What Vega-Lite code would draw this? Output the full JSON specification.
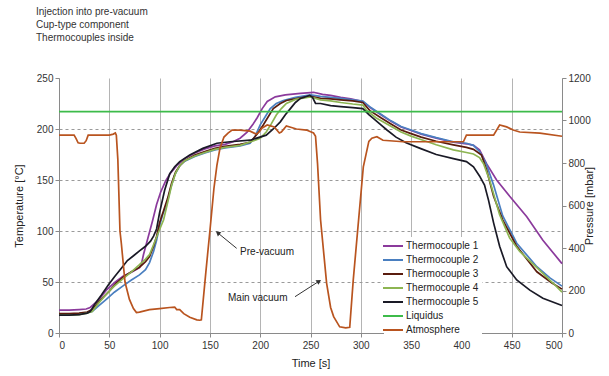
{
"$schema": "https://vega.github.io/schema/vega-lite/v6.json",
"width": 503, "height": 255,
"autosize": {"type": "none"},
"padding": {"left": 59, "top": 78, "right": 47, "bottom": 43},
"background": "white",
"config": {"font": "Liberation Sans", "view": {"stroke": null},
 "axis": {"labelFontSize": 10, "titleFontSize": 11, "titleFontWeight": "normal", "labelColor": "#333", "titleColor": "#222", "domainColor": "#8a8a8a", "tickColor": "#8a8a8a", "tickSize": 4}},
"title": {"text": ["Injection into pre-vacuum", "Cup-type component", "Thermocouples inside"], "anchor": "start", "frame": "group", "fontSize": 10, "fontWeight": "normal", "lineHeight": 13, "color": "#333", "dx": -23, "offset": 30},
"datasets": {
"tc": [
{"s":"Thermocouple 1","t":0,"v":22.5},{"s":"Thermocouple 1","t":10,"v":22.5},{"s":"Thermocouple 1","t":20,"v":23},{"s":"Thermocouple 1","t":27,"v":23.5},{"s":"Thermocouple 1","t":31,"v":25},{"s":"Thermocouple 1","t":39,"v":32},{"s":"Thermocouple 1","t":47,"v":42},{"s":"Thermocouple 1","t":56,"v":50},{"s":"Thermocouple 1","t":64,"v":56},{"s":"Thermocouple 1","t":72,"v":59.5},{"s":"Thermocouple 1","t":80,"v":64},{"s":"Thermocouple 1","t":82,"v":68},{"s":"Thermocouple 1","t":84,"v":77},{"s":"Thermocouple 1","t":87,"v":88},{"s":"Thermocouple 1","t":90,"v":99},{"s":"Thermocouple 1","t":93,"v":110},{"s":"Thermocouple 1","t":97,"v":126},{"s":"Thermocouple 1","t":101,"v":138},{"s":"Thermocouple 1","t":106,"v":149},{"s":"Thermocouple 1","t":111,"v":157},{"s":"Thermocouple 1","t":117,"v":164},{"s":"Thermocouple 1","t":125,"v":171},{"s":"Thermocouple 1","t":135,"v":176.5},{"s":"Thermocouple 1","t":145,"v":180.5},{"s":"Thermocouple 1","t":155,"v":183.5},{"s":"Thermocouple 1","t":165,"v":185},{"s":"Thermocouple 1","t":173,"v":187.5},{"s":"Thermocouple 1","t":180,"v":191},{"s":"Thermocouple 1","t":187,"v":197},{"s":"Thermocouple 1","t":193,"v":205},{"s":"Thermocouple 1","t":197,"v":211},{"s":"Thermocouple 1","t":202,"v":220},{"s":"Thermocouple 1","t":207,"v":227},{"s":"Thermocouple 1","t":215,"v":231.5},{"s":"Thermocouple 1","t":225,"v":233.5},{"s":"Thermocouple 1","t":240,"v":235},{"s":"Thermocouple 1","t":253,"v":236},{"s":"Thermocouple 1","t":262,"v":234},{"s":"Thermocouple 1","t":270,"v":233},{"s":"Thermocouple 1","t":280,"v":231},{"s":"Thermocouple 1","t":290,"v":229.5},{"s":"Thermocouple 1","t":302,"v":227},{"s":"Thermocouple 1","t":310,"v":220.5},{"s":"Thermocouple 1","t":320,"v":214},{"s":"Thermocouple 1","t":330,"v":207.5},{"s":"Thermocouple 1","t":340,"v":202},{"s":"Thermocouple 1","t":350,"v":198.5},{"s":"Thermocouple 1","t":360,"v":195},{"s":"Thermocouple 1","t":375,"v":191},{"s":"Thermocouple 1","t":392,"v":187},{"s":"Thermocouple 1","t":405,"v":185.5},{"s":"Thermocouple 1","t":412,"v":184},{"s":"Thermocouple 1","t":418,"v":179.5},{"s":"Thermocouple 1","t":425,"v":166},{"s":"Thermocouple 1","t":435,"v":150},{"s":"Thermocouple 1","t":448,"v":134},{"s":"Thermocouple 1","t":465,"v":114},{"s":"Thermocouple 1","t":481,"v":91},{"s":"Thermocouple 1","t":500,"v":68},
{"s":"Thermocouple 2","t":0,"v":18.5},{"s":"Thermocouple 2","t":10,"v":18.5},{"s":"Thermocouple 2","t":20,"v":19},{"s":"Thermocouple 2","t":28,"v":20},{"s":"Thermocouple 2","t":33,"v":21},{"s":"Thermocouple 2","t":40,"v":27},{"s":"Thermocouple 2","t":47,"v":33},{"s":"Thermocouple 2","t":55,"v":40},{"s":"Thermocouple 2","t":64,"v":46.5},{"s":"Thermocouple 2","t":72,"v":52},{"s":"Thermocouple 2","t":80,"v":57},{"s":"Thermocouple 2","t":86,"v":62},{"s":"Thermocouple 2","t":90,"v":69},{"s":"Thermocouple 2","t":94,"v":80},{"s":"Thermocouple 2","t":97,"v":91},{"s":"Thermocouple 2","t":100,"v":105},{"s":"Thermocouple 2","t":103,"v":116},{"s":"Thermocouple 2","t":107,"v":126},{"s":"Thermocouple 2","t":111,"v":142},{"s":"Thermocouple 2","t":115,"v":155},{"s":"Thermocouple 2","t":120,"v":164},{"s":"Thermocouple 2","t":125,"v":168.5},{"s":"Thermocouple 2","t":135,"v":173},{"s":"Thermocouple 2","t":145,"v":176.5},{"s":"Thermocouple 2","t":155,"v":179.5},{"s":"Thermocouple 2","t":165,"v":181.5},{"s":"Thermocouple 2","t":180,"v":183.5},{"s":"Thermocouple 2","t":190,"v":186},{"s":"Thermocouple 2","t":195,"v":193},{"s":"Thermocouple 2","t":200,"v":204},{"s":"Thermocouple 2","t":205,"v":212},{"s":"Thermocouple 2","t":210,"v":220},{"s":"Thermocouple 2","t":216,"v":225},{"s":"Thermocouple 2","t":223,"v":228},{"s":"Thermocouple 2","t":235,"v":231},{"s":"Thermocouple 2","t":250,"v":233.5},{"s":"Thermocouple 2","t":260,"v":232},{"s":"Thermocouple 2","t":270,"v":231},{"s":"Thermocouple 2","t":280,"v":230},{"s":"Thermocouple 2","t":292,"v":228.5},{"s":"Thermocouple 2","t":302,"v":227.5},{"s":"Thermocouple 2","t":310,"v":221},{"s":"Thermocouple 2","t":320,"v":214.5},{"s":"Thermocouple 2","t":330,"v":208},{"s":"Thermocouple 2","t":340,"v":202.5},{"s":"Thermocouple 2","t":350,"v":199},{"s":"Thermocouple 2","t":360,"v":195.5},{"s":"Thermocouple 2","t":375,"v":191.5},{"s":"Thermocouple 2","t":392,"v":187.5},{"s":"Thermocouple 2","t":405,"v":186},{"s":"Thermocouple 2","t":412,"v":184},{"s":"Thermocouple 2","t":418,"v":178},{"s":"Thermocouple 2","t":425,"v":165},{"s":"Thermocouple 2","t":432,"v":145},{"s":"Thermocouple 2","t":441,"v":115},{"s":"Thermocouple 2","t":455,"v":88},{"s":"Thermocouple 2","t":475,"v":65},{"s":"Thermocouple 2","t":488,"v":54},{"s":"Thermocouple 2","t":500,"v":46},
{"s":"Thermocouple 3","t":0,"v":19},{"s":"Thermocouple 3","t":10,"v":19},{"s":"Thermocouple 3","t":20,"v":19.5},{"s":"Thermocouple 3","t":28,"v":20.5},{"s":"Thermocouple 3","t":33,"v":23},{"s":"Thermocouple 3","t":40,"v":31},{"s":"Thermocouple 3","t":50,"v":41},{"s":"Thermocouple 3","t":57,"v":49},{"s":"Thermocouple 3","t":64,"v":55},{"s":"Thermocouple 3","t":72,"v":60},{"s":"Thermocouple 3","t":80,"v":64.5},{"s":"Thermocouple 3","t":86,"v":70},{"s":"Thermocouple 3","t":90,"v":75},{"s":"Thermocouple 3","t":94,"v":85},{"s":"Thermocouple 3","t":97,"v":94.6},{"s":"Thermocouple 3","t":100,"v":108},{"s":"Thermocouple 3","t":104,"v":120},{"s":"Thermocouple 3","t":108,"v":132},{"s":"Thermocouple 3","t":112,"v":147},{"s":"Thermocouple 3","t":116,"v":158},{"s":"Thermocouple 3","t":120,"v":164},{"s":"Thermocouple 3","t":125,"v":169},{"s":"Thermocouple 3","t":135,"v":174.5},{"s":"Thermocouple 3","t":145,"v":178},{"s":"Thermocouple 3","t":155,"v":181},{"s":"Thermocouple 3","t":165,"v":183},{"s":"Thermocouple 3","t":180,"v":185},{"s":"Thermocouple 3","t":190,"v":187},{"s":"Thermocouple 3","t":197,"v":195},{"s":"Thermocouple 3","t":203,"v":204},{"s":"Thermocouple 3","t":208,"v":212},{"s":"Thermocouple 3","t":213,"v":220},{"s":"Thermocouple 3","t":220,"v":225},{"s":"Thermocouple 3","t":226,"v":228},{"s":"Thermocouple 3","t":240,"v":230.5},{"s":"Thermocouple 3","t":250,"v":232},{"s":"Thermocouple 3","t":260,"v":230},{"s":"Thermocouple 3","t":270,"v":229.5},{"s":"Thermocouple 3","t":280,"v":228.5},{"s":"Thermocouple 3","t":292,"v":227.5},{"s":"Thermocouple 3","t":302,"v":226},{"s":"Thermocouple 3","t":309,"v":218},{"s":"Thermocouple 3","t":320,"v":211},{"s":"Thermocouple 3","t":330,"v":205},{"s":"Thermocouple 3","t":340,"v":199},{"s":"Thermocouple 3","t":350,"v":195.5},{"s":"Thermocouple 3","t":360,"v":192},{"s":"Thermocouple 3","t":375,"v":188},{"s":"Thermocouple 3","t":392,"v":184.5},{"s":"Thermocouple 3","t":405,"v":182},{"s":"Thermocouple 3","t":412,"v":180},{"s":"Thermocouple 3","t":420,"v":174.5},{"s":"Thermocouple 3","t":425,"v":160},{"s":"Thermocouple 3","t":432,"v":134},{"s":"Thermocouple 3","t":441,"v":111},{"s":"Thermocouple 3","t":455,"v":85},{"s":"Thermocouple 3","t":475,"v":60},{"s":"Thermocouple 3","t":490,"v":49},{"s":"Thermocouple 3","t":500,"v":43},
{"s":"Thermocouple 4","t":0,"v":17.5},{"s":"Thermocouple 4","t":10,"v":17.5},{"s":"Thermocouple 4","t":20,"v":18},{"s":"Thermocouple 4","t":28,"v":19.5},{"s":"Thermocouple 4","t":33,"v":21},{"s":"Thermocouple 4","t":40,"v":30},{"s":"Thermocouple 4","t":47,"v":38},{"s":"Thermocouple 4","t":55,"v":46},{"s":"Thermocouple 4","t":64,"v":53.6},{"s":"Thermocouple 4","t":72,"v":60},{"s":"Thermocouple 4","t":80,"v":67},{"s":"Thermocouple 4","t":86,"v":72.5},{"s":"Thermocouple 4","t":90,"v":77},{"s":"Thermocouple 4","t":95,"v":89},{"s":"Thermocouple 4","t":99,"v":99},{"s":"Thermocouple 4","t":104,"v":111},{"s":"Thermocouple 4","t":108,"v":128},{"s":"Thermocouple 4","t":112,"v":145},{"s":"Thermocouple 4","t":116,"v":157},{"s":"Thermocouple 4","t":120,"v":164},{"s":"Thermocouple 4","t":125,"v":169},{"s":"Thermocouple 4","t":135,"v":173.5},{"s":"Thermocouple 4","t":145,"v":177},{"s":"Thermocouple 4","t":155,"v":180},{"s":"Thermocouple 4","t":165,"v":182},{"s":"Thermocouple 4","t":180,"v":184},{"s":"Thermocouple 4","t":195,"v":189},{"s":"Thermocouple 4","t":200,"v":191},{"s":"Thermocouple 4","t":206,"v":197},{"s":"Thermocouple 4","t":211,"v":205},{"s":"Thermocouple 4","t":216,"v":213.7},{"s":"Thermocouple 4","t":221,"v":220},{"s":"Thermocouple 4","t":226,"v":225},{"s":"Thermocouple 4","t":235,"v":229},{"s":"Thermocouple 4","t":250,"v":231.5},{"s":"Thermocouple 4","t":260,"v":228.5},{"s":"Thermocouple 4","t":270,"v":227.5},{"s":"Thermocouple 4","t":280,"v":226},{"s":"Thermocouple 4","t":292,"v":224.5},{"s":"Thermocouple 4","t":302,"v":223.5},{"s":"Thermocouple 4","t":306,"v":218},{"s":"Thermocouple 4","t":315,"v":211},{"s":"Thermocouple 4","t":326,"v":205},{"s":"Thermocouple 4","t":340,"v":197},{"s":"Thermocouple 4","t":350,"v":193},{"s":"Thermocouple 4","t":359,"v":190},{"s":"Thermocouple 4","t":375,"v":184.5},{"s":"Thermocouple 4","t":392,"v":179.5},{"s":"Thermocouple 4","t":405,"v":177},{"s":"Thermocouple 4","t":412,"v":175.5},{"s":"Thermocouple 4","t":418,"v":172},{"s":"Thermocouple 4","t":422,"v":166},{"s":"Thermocouple 4","t":428,"v":150},{"s":"Thermocouple 4","t":438,"v":116},{"s":"Thermocouple 4","t":448,"v":93},{"s":"Thermocouple 4","t":458,"v":80},{"s":"Thermocouple 4","t":475,"v":64},{"s":"Thermocouple 4","t":491,"v":49},{"s":"Thermocouple 4","t":500,"v":40},
{"s":"Thermocouple 5","t":0,"v":17.5},{"s":"Thermocouple 5","t":10,"v":17.5},{"s":"Thermocouple 5","t":20,"v":18},{"s":"Thermocouple 5","t":28,"v":19.5},{"s":"Thermocouple 5","t":31,"v":21},{"s":"Thermocouple 5","t":36,"v":29},{"s":"Thermocouple 5","t":42,"v":37},{"s":"Thermocouple 5","t":49,"v":47},{"s":"Thermocouple 5","t":55,"v":55},{"s":"Thermocouple 5","t":62,"v":63.5},{"s":"Thermocouple 5","t":68,"v":71},{"s":"Thermocouple 5","t":75,"v":76.5},{"s":"Thermocouple 5","t":80,"v":80.5},{"s":"Thermocouple 5","t":86,"v":85},{"s":"Thermocouple 5","t":91,"v":90},{"s":"Thermocouple 5","t":94,"v":95},{"s":"Thermocouple 5","t":97,"v":102},{"s":"Thermocouple 5","t":100,"v":118},{"s":"Thermocouple 5","t":105,"v":140},{"s":"Thermocouple 5","t":110,"v":156},{"s":"Thermocouple 5","t":115,"v":163},{"s":"Thermocouple 5","t":120,"v":168},{"s":"Thermocouple 5","t":130,"v":174.5},{"s":"Thermocouple 5","t":143,"v":181},{"s":"Thermocouple 5","t":157,"v":186},{"s":"Thermocouple 5","t":170,"v":187.5},{"s":"Thermocouple 5","t":190,"v":189},{"s":"Thermocouple 5","t":206,"v":194},{"s":"Thermocouple 5","t":213,"v":200},{"s":"Thermocouple 5","t":220,"v":207},{"s":"Thermocouple 5","t":225,"v":214},{"s":"Thermocouple 5","t":230,"v":220},{"s":"Thermocouple 5","t":235,"v":226},{"s":"Thermocouple 5","t":240,"v":230},{"s":"Thermocouple 5","t":249,"v":233},{"s":"Thermocouple 5","t":252,"v":231},{"s":"Thermocouple 5","t":255,"v":225},{"s":"Thermocouple 5","t":260,"v":225},{"s":"Thermocouple 5","t":270,"v":223},{"s":"Thermocouple 5","t":280,"v":222},{"s":"Thermocouple 5","t":292,"v":221},{"s":"Thermocouple 5","t":302,"v":220},{"s":"Thermocouple 5","t":308,"v":214},{"s":"Thermocouple 5","t":313,"v":210},{"s":"Thermocouple 5","t":320,"v":204},{"s":"Thermocouple 5","t":326,"v":199},{"s":"Thermocouple 5","t":335,"v":192},{"s":"Thermocouple 5","t":345,"v":186.5},{"s":"Thermocouple 5","t":359,"v":181},{"s":"Thermocouple 5","t":375,"v":175},{"s":"Thermocouple 5","t":392,"v":171},{"s":"Thermocouple 5","t":405,"v":168},{"s":"Thermocouple 5","t":412,"v":163},{"s":"Thermocouple 5","t":418,"v":154},{"s":"Thermocouple 5","t":423,"v":145},{"s":"Thermocouple 5","t":427,"v":130},{"s":"Thermocouple 5","t":432,"v":108},{"s":"Thermocouple 5","t":438,"v":85},{"s":"Thermocouple 5","t":445,"v":65},{"s":"Thermocouple 5","t":455,"v":52},{"s":"Thermocouple 5","t":468,"v":42},{"s":"Thermocouple 5","t":481,"v":34},{"s":"Thermocouple 5","t":500,"v":27},
{"s":"Liquidus","t":0,"v":217},{"s":"Liquidus","t":500,"v":217}
],
"atm": [
{"s":"Atmosphere","t":0,"p":931},{"s":"Atmosphere","t":15,"p":931},{"s":"Atmosphere","t":17,"p":915},{"s":"Atmosphere","t":19,"p":895},{"s":"Atmosphere","t":21,"p":893},{"s":"Atmosphere","t":25,"p":893},{"s":"Atmosphere","t":27,"p":905},{"s":"Atmosphere","t":29,"p":931},{"s":"Atmosphere","t":50,"p":931},{"s":"Atmosphere","t":54,"p":936},{"s":"Atmosphere","t":56,"p":941},{"s":"Atmosphere","t":57,"p":931},{"s":"Atmosphere","t":58.5,"p":816},{"s":"Atmosphere","t":60.6,"p":480},{"s":"Atmosphere","t":62,"p":420},{"s":"Atmosphere","t":65.6,"p":240},{"s":"Atmosphere","t":70,"p":158},{"s":"Atmosphere","t":74,"p":115},{"s":"Atmosphere","t":77,"p":96},{"s":"Atmosphere","t":80,"p":98},{"s":"Atmosphere","t":90,"p":110},{"s":"Atmosphere","t":100,"p":115},{"s":"Atmosphere","t":110,"p":120},{"s":"Atmosphere","t":115,"p":122},{"s":"Atmosphere","t":117,"p":110},{"s":"Atmosphere","t":120,"p":110},{"s":"Atmosphere","t":124,"p":91},{"s":"Atmosphere","t":130,"p":74},{"s":"Atmosphere","t":137,"p":62},{"s":"Atmosphere","t":140,"p":60},{"s":"Atmosphere","t":141.5,"p":62},{"s":"Atmosphere","t":146,"p":288},{"s":"Atmosphere","t":150,"p":480},{"s":"Atmosphere","t":154,"p":680},{"s":"Atmosphere","t":157,"p":790},{"s":"Atmosphere","t":160,"p":869},{"s":"Atmosphere","t":164,"p":922},{"s":"Atmosphere","t":168,"p":941},{"s":"Atmosphere","t":172,"p":955},{"s":"Atmosphere","t":180,"p":955},{"s":"Atmosphere","t":190,"p":950},{"s":"Atmosphere","t":196,"p":936},{"s":"Atmosphere","t":199,"p":946},{"s":"Atmosphere","t":202,"p":965},{"s":"Atmosphere","t":207,"p":979},{"s":"Atmosphere","t":214,"p":970},{"s":"Atmosphere","t":219,"p":941},{"s":"Atmosphere","t":221,"p":946},{"s":"Atmosphere","t":226,"p":974},{"s":"Atmosphere","t":236,"p":960},{"s":"Atmosphere","t":246,"p":955},{"s":"Atmosphere","t":253,"p":941},{"s":"Atmosphere","t":255,"p":926},{"s":"Atmosphere","t":257,"p":797},{"s":"Atmosphere","t":260,"p":533},{"s":"Atmosphere","t":266,"p":235},{"s":"Atmosphere","t":270,"p":120},{"s":"Atmosphere","t":273,"p":77},{"s":"Atmosphere","t":279,"p":29},{"s":"Atmosphere","t":285,"p":24},{"s":"Atmosphere","t":289,"p":27},{"s":"Atmosphere","t":292.5,"p":250},{"s":"Atmosphere","t":302.5,"p":782},{"s":"Atmosphere","t":308,"p":902},{"s":"Atmosphere","t":311,"p":917},{"s":"Atmosphere","t":316,"p":924},{"s":"Atmosphere","t":322,"p":907},{"s":"Atmosphere","t":342,"p":900},{"s":"Atmosphere","t":392,"p":900},{"s":"Atmosphere","t":402,"p":900},{"s":"Atmosphere","t":405,"p":931},{"s":"Atmosphere","t":432,"p":931},{"s":"Atmosphere","t":438,"p":979},{"s":"Atmosphere","t":445,"p":970},{"s":"Atmosphere","t":451.5,"p":955},{"s":"Atmosphere","t":458,"p":946},{"s":"Atmosphere","t":478,"p":941},{"s":"Atmosphere","t":500,"p":926}
],
"notes": [{"label":"Pre-vacuum","t":180,"v":79},{"label":"Main vacuum","t":168,"v":34}],
"arrows": [{"name":"pre","t":176.6,"v":83,"t2":158.4,"v2":97.7},{"name":"main","t":234.6,"v":35.6,"t2":257.8,"v2":50.3}]
},
"layer": [
 {"layer": [
  {"data": {"name": "tc"},
   "mark": {"type": "line", "strokeWidth": 1.7},
   "encoding": {
    "x": {"field": "t", "type": "quantitative", "scale": {"domain": [0, 500], "nice": false},
      "axis": {"title": "Time [s]", "values": [0,50,100,150,200,250,300,350,400,450,500], "grid": true, "gridColor": "#b4b4b4", "titlePadding": 7, "labelPadding": 3}},
    "y": {"field": "v", "type": "quantitative", "scale": {"domain": [0, 250], "nice": false},
      "axis": {"title": "Temperature [°C]", "values": [0,50,100,150,200,250], "grid": true, "gridDash": [3,3], "gridColor": "#9a9a9a", "gridOpacity": {"condition": {"test": "datum.value >= 250", "value": 0}, "value": 1}, "titlePadding": 12}},
    "color": {"field": "s", "type": "nominal",
      "scale": {"domain": ["Thermocouple 1","Thermocouple 2","Thermocouple 3","Thermocouple 4","Thermocouple 5","Liquidus","Atmosphere"],
                "range": ["#8b3a9c","#4a7fc0","#5a1c0e","#8db552","#1a1a26","#3dbb4a","#b9541f"]},
      "legend": {"orient": "none", "legendX": 325, "legendY": 159, "title": null, "symbolType": "M-2,0H2", "symbolSize": 100, "symbolStrokeWidth": 2, "labelFontSize": 10, "labelColor": "#222", "rowPadding": 3, "padding": 3, "fillColor": "white", "labelOffset": 7, "labelLimit": 200}}
   }},
  {"data": {"name": "arrows"}, "mark": {"type": "rule", "color": "#333", "strokeWidth": 1},
   "encoding": {"x": {"field": "t", "type": "quantitative"}, "y": {"field": "v", "type": "quantitative"}, "x2": {"field": "t2"}, "y2": {"field": "v2"}}},
  {"data": {"name": "arrows"}, "transform": [{"filter": "datum.name == 'pre'"}], "mark": {"type": "point", "shape": "triangle", "filled": true, "color": "#333", "size": 30, "angle": 309, "opacity": 1},
   "encoding": {"x": {"field": "t2", "type": "quantitative"}, "y": {"field": "v2", "type": "quantitative"}}},
  {"data": {"name": "arrows"}, "transform": [{"filter": "datum.name == 'main'"}], "mark": {"type": "point", "shape": "triangle", "filled": true, "color": "#333", "size": 30, "angle": 57, "opacity": 1},
   "encoding": {"x": {"field": "t2", "type": "quantitative"}, "y": {"field": "v2", "type": "quantitative"}}},
  {"data": {"name": "notes"}, "mark": {"type": "text", "align": "left", "baseline": "middle", "fontSize": 10, "color": "#222"},
   "encoding": {"x": {"field": "t", "type": "quantitative"}, "y": {"field": "v", "type": "quantitative"}, "text": {"field": "label"}}}
 ]},
 {"data": {"name": "atm"},
  "mark": {"type": "line", "strokeWidth": 1.7},
  "encoding": {
   "x": {"field": "t", "type": "quantitative"},
   "y": {"field": "p", "type": "quantitative", "scale": {"domain": [0, 1200], "nice": false},
     "axis": {"orient": "right", "title": "Pressure [mbar]", "values": [0,200,400,600,800,1000,1200], "format": "d", "grid": false, "titleAngle": 270, "titlePadding": 4}},
   "color": {"field": "s", "type": "nominal"}
  }}
],
"resolve": {"scale": {"y": "independent"}}
}
